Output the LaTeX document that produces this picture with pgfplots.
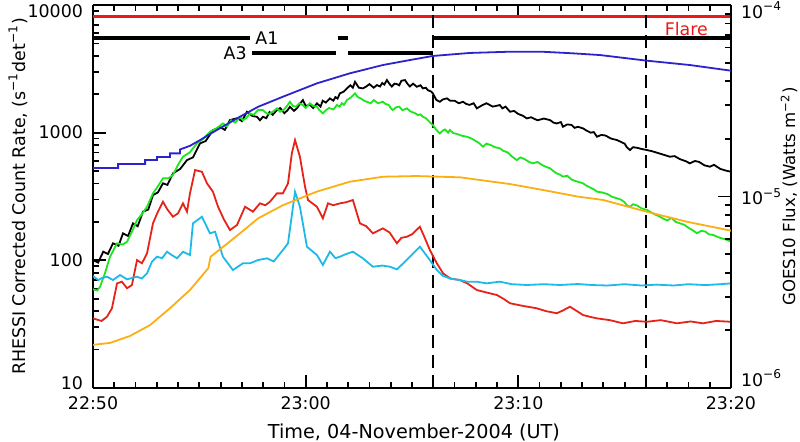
\documentclass[border=0pt]{standalone}
\usepackage{fontspec}
\setmainfont{DejaVu Sans}
\usepackage{pgfplots}
\pgfplotsset{compat=1.18}
\definecolor{goesl}{RGB}{45,35,205}
\definecolor{goess}{RGB}{250,175,20}
\definecolor{cgreen}{RGB}{30,230,30}
\definecolor{cred}{RGB}{230,35,25}
\definecolor{ccyan}{RGB}{30,185,230}
\definecolor{flare}{RGB}{235,25,25}
\pgfplotsset{
 common/.style={
  scale only axis, width=319pt, height=191.5pt,
  xmin=0, xmax=30,
  axis line style={line width=0.9pt},
  every tick/.style={line width=0.9pt, black},
  major tick length=6.5pt, minor tick length=3.2pt,
  tick align=inside,
  /pgf/number format/assume math mode=true,
 }
}
\begin{document}
\begin{tikzpicture}[font=\fontsize{8.7}{10}\selectfont]
\begin{axis}[common, ymode=log, ymin=10, ymax=10000,
 axis y line*=left,
 xtick={0,10,20,30}, xticklabels={22:50,23:00,23:10,23:20},
 minor xtick={1,2,3,4,5,6,7,8,9,11,12,13,14,15,16,17,18,19,21,22,23,24,25,26,27,28,29},
 ytick={10,100,1000,10000},
 yticklabels={\raisebox{-0.6pt}[0pt][0pt]{10},100,1000,\raisebox{-6.2pt}[0pt][0pt]{10000}},
 minor ytick={20,30,40,50,60,70,80,90,200,300,400,500,600,700,800,900,2000,3000,4000,5000,6000,7000,8000,9000},
 xlabel={Time, 04-November-2004 (UT)},
 ylabel={RHESSI Corrected Count Rate, (s\textsuperscript{−1}det\textsuperscript{−1})},
 xlabel style={at={(axis description cs:0.503,-0.115)}, anchor=center, font=\fontsize{9.6}{11}\selectfont},
 ylabel style={at={(axis description cs:-0.1176,0.5)}, anchor=center},
 yticklabel style={xshift=-1.5pt},
 xticklabel style={yshift=-1pt},
]
\coordinate (bbl) at (rel axis cs:-0.1458,-0.141);
\coordinate (btr) at (rel axis cs:1.1082,1.0131);
% flare bar
\addplot[flare, line width=1.6pt] coordinates {(0,8180) (30,8180)};
% A1 bars
\addplot[black, line width=1.7pt] coordinates {(0,5510) (7.38,5510)};
\addplot[black, line width=1.7pt] coordinates {(11.52,5510) (11.99,5510)};
\addplot[black, line width=1.7pt] coordinates {(16,5510) (30,5510)};
% A3 bars
\addplot[black, line width=1.7pt] coordinates {(7.48,4200) (11.42,4200)};
\addplot[black, line width=1.7pt] coordinates {(11.99,4200) (16,4200)};
\node[anchor=west, inner sep=0pt] at (axis cs:7.62,5510) {A1};
\node[anchor=east, inner sep=0pt] at (axis cs:7.24,4200) {A3};
\node[text=flare, inner sep=0pt] at (axis cs:27.9,6470) {Flare};
% dashed lines
\addplot[black, line width=1pt, dash pattern=on 6.5pt off 3.5pt] coordinates {(16,10) (16,10000)};
\addplot[black, line width=1pt, dash pattern=on 6.5pt off 3.5pt] coordinates {(26,10) (26,10000)};
% black
\addplot[black, line width=0.9pt] coordinates {(0,100.5)(0.24,96)(0.48,116.8)(0.7,112)(0.94,135.9)(1.2,130)(1.41,162.7)(1.65,155)(1.88,194.9)(2.1,185)(2.35,240.3)(2.6,250)(2.82,324.6)(3.05,340)(3.29,400.9)(3.5,390)(3.76,480)(4.1,520)(4.42,610)(4.7,640)(5.03,824.5)(5.3,860)(5.64,1048)(6.0,1100)(6.2,1050)(6.44,1255)(6.8,1300)(7.0,1230)(7.24,1458)(7.5,1350)(7.71,1332)(7.85,1250)(7.99,1332)(8.15,1300)(8.3,1450)(8.45,1380)(8.65,1503)(8.8,1560)(9.0,1420)(9.15,1500)(9.26,1595)(9.45,1480)(9.6,1560)(9.75,1700)(9.87,1800)(10.0,1620)(10.2,1650)(10.35,1560)(10.53,1696)(10.7,1600)(10.8,1780)(10.95,1720)(11.14,1856)(11.3,1780)(11.4,1900)(11.5,1850)(11.61,2032)(11.8,2100)(11.94,2223)(12.1,2350)(12.22,2250)(12.32,2503)(12.5,2250)(12.69,2223)(12.85,2300)(13.0,2400)(13.2,2250)(13.35,2359)(13.5,2300)(13.6,2450)(13.7,2380)(13.82,2582)(13.95,2400)(14.05,2300)(14.18,2420)(14.29,2402)(14.4,2350)(14.5,2550)(14.67,2582)(14.8,2400)(14.9,2300)(15.05,2420)(15.23,2288)(15.4,2350)(15.51,2223)(15.65,2250)(15.75,2150)(15.9,2100)(15.98,2032)(16.15,1800)(16.31,1746)(16.45,1820)(16.64,1856)(16.8,1780)(17.0,1780)(17.2,1700)(17.4,1746)(17.55,1680)(17.7,1650)(17.9,1700)(18.05,1550)(18.3,1640)(18.5,1700)(18.8,1600)(19.13,1645)(19.25,1550)(19.4,1600)(19.61,1458)(19.8,1480)(20.0,1400)(20.2,1360)(20.4,1294)(20.6,1320)(20.9,1250)(21.2,1290)(21.49,1255)(21.65,1200)(21.8,1180)(22.0,1210)(22.1,1112)(22.3,1160)(22.5,1150)(22.65,1090)(22.8,1112)(23.04,1081)(23.2,1040)(23.4,1000)(23.55,1010)(23.7,929)(23.9,960)(24.1,950)(24.35,900)(24.64,875)(24.8,850)(25.0,820)(25.1,770)(25.25,731)(25.4,770)(25.6,760)(25.8,745)(26.05,731)(26.3,715)(26.6,690)(26.85,670)(27.13,648)(27.35,655)(27.6,620)(27.85,600)(28.07,575)(28.3,600)(28.5,590)(28.75,555)(29.01,541)(29.2,560)(29.5,520)(29.75,505)(30,494)};
% green
\addplot[cgreen, line width=0.9pt] coordinates {(0,59.3)(0.2,58)(0.33,62.1)(0.56,79.1)(0.8,106.7)(1.13,135.9)(1.4,133)(1.6,139.9)(1.85,170)(2.07,206.8)(2.3,230)(2.54,262.9)(2.82,334.7)(3.05,380)(3.29,438.7)(3.55,440)(3.76,465.6)(4.0,560)(4.23,648)(4.55,700)(4.89,824.5)(5.2,900)(5.5,1016)(5.8,1080)(6.11,1182)(6.3,1120)(6.5,1250)(6.7,1200)(6.91,1332)(7.05,1250)(7.2,1300)(7.38,1416)(7.55,1380)(7.76,1503)(7.99,1503)(8.15,1420)(8.3,1400)(8.5,1480)(8.65,1550)(8.8,1460)(8.95,1500)(9.1,1600)(9.26,1746)(9.4,1620)(9.55,1600)(9.7,1700)(9.87,1645)(10.0,1560)(10.2,1700)(10.35,1620)(10.53,1595)(10.65,1500)(10.81,1416)(10.95,1500)(11.1,1560)(11.3,1520)(11.47,1645)(11.6,1600)(11.7,1700)(11.8,1650)(11.94,1800)(12.15,1900)(12.32,2032)(12.45,1900)(12.6,1850)(12.75,1780)(12.88,1746)(13.05,1700)(13.2,1800)(13.4,1700)(13.63,1746)(13.75,1680)(13.9,1650)(14.0,1560)(14.1,1503)(14.25,1580)(14.4,1600)(14.55,1500)(14.76,1550)(14.9,1480)(15.0,1450)(15.15,1420)(15.28,1373)(15.4,1390)(15.51,1332)(15.65,1300)(15.75,1250)(15.85,1200)(15.98,1147)(16.15,1050)(16.31,987)(16.45,1040)(16.55,1060)(16.7,1000)(16.78,1048)(16.95,990)(17.1,980)(17.3,950)(17.58,929)(17.8,900)(18.0,860)(18.15,830)(18.34,776)(18.5,820)(18.7,800)(18.9,770)(19.13,754)(19.3,720)(19.5,700)(19.7,650)(19.93,610)(20.1,640)(20.3,620)(20.5,590)(20.69,575)(20.9,590)(21.1,560)(21.3,540)(21.49,526)(21.65,500)(21.8,480)(21.95,470)(22.1,452)(22.3,460)(22.5,430)(22.65,420)(22.8,413)(23.04,401)(23.2,385)(23.4,370)(23.55,360)(23.7,345)(23.95,340)(24.2,330)(24.4,315)(24.64,306)(24.8,300)(25.0,285)(25.1,270)(25.25,263)(25.4,275)(25.6,268)(25.8,255)(26.05,248)(26.2,240)(26.4,230)(26.6,222)(26.8,213)(27.0,205)(27.2,215)(27.4,200)(27.6,195)(27.8,190)(28.0,180)(28.2,172)(28.4,163)(28.6,170)(28.8,168)(28.95,160)(29.15,158)(29.4,152)(29.6,148)(29.8,145)(30,140)};
% red
\addplot[cred, line width=0.9pt] coordinates {(0,35.1)(0.4,33.5)(0.66,36.2)(0.89,42.1)(1.13,66.0)(1.36,68.0)(1.6,60.4)(1.83,64.1)(2.07,100.5)(2.3,94.7)(2.54,113.4)(2.82,194.9)(3.05,240)(3.29,287.7)(3.5,250)(3.76,219.5)(4.0,233.4)(4.23,279.5)(4.42,240.3)(4.56,334.7)(4.8,509.4)(5.12,494)(5.36,400.9)(5.64,344.5)(5.88,262.9)(6.15,210)(6.44,172.7)(6.77,189.0)(7.15,262.9)(7.52,240.3)(7.85,279.5)(8.1,270)(8.32,287.7)(8.65,334.7)(8.93,334.7)(9.17,400.9)(9.35,688.5)(9.5,875)(9.73,648)(9.97,377)(10.11,296.7)(10.53,262.9)(10.81,213.3)(11.05,279.5)(11.3,270)(11.61,279.5)(11.9,285)(12.22,296.7)(12.55,194.9)(12.85,185)(13.16,162.7)(13.63,178.1)(13.95,165)(14.29,135.9)(14.5,150)(14.76,153.0)(15.0,160)(15.37,183.3)(15.6,150)(15.84,120.4)(16.17,94.7)(16.46,79.1)(16.8,72)(17.25,70.1)(17.6,66)(18.05,58.5)(18.5,56)(18.99,53.5)(19.3,50)(19.61,46.1)(20.2,44)(20.87,42.1)(21.3,40)(21.81,38.5)(22.1,40.5)(22.43,43.3)(22.8,39.6)(23.04,37.3)(23.4,36)(23.7,35.1)(24.3,34)(24.92,32.1)(25.5,33.5)(26.05,33.0)(26.7,34)(27.46,32.1)(28.1,33.2)(28.68,32.1)(29.3,33.5)(30,33.0)};
% cyan
\addplot[ccyan, line width=0.9pt] coordinates {(0,75.4)(0.24,70.1)(0.45,73)(0.66,74.4)(0.94,70.1)(1.27,76.7)(1.6,71.0)(2.07,74.4)(2.3,72)(2.54,79.1)(2.77,97.5)(3.01,106.7)(3.25,104)(3.48,116.8)(3.7,110)(3.95,103.7)(4.23,116.8)(4.56,110.0)(4.7,194.9)(5.12,219.5)(5.5,162.7)(5.74,167.5)(6.11,106.7)(6.58,83.9)(6.85,90)(7.05,94.7)(7.38,94.7)(7.76,100.5)(8.18,103.7)(8.5,98)(8.93,120.4)(9.17,135.9)(9.5,344.5)(9.73,262.9)(10.06,127.8)(10.53,110.0)(10.81,91.9)(11.14,116.8)(11.4,104)(11.61,106.7)(11.9,112)(12.22,116.8)(12.69,103.7)(13.16,89.1)(13.6,91)(13.96,89.1)(14.29,85.0)(14.6,95)(14.9,106.7)(15.37,127.8)(15.84,100.5)(16.17,83.9)(16.46,75.4)(16.8,72)(17.25,70.1)(17.6,68)(18.05,68.0)(18.5,66)(19.13,68.0)(19.7,65)(20.4,64.1)(21.2,65)(21.96,64.1)(22.8,65.2)(23.5,64)(24.2,63.5)(25.0,65)(25.8,63.5)(26.5,64.5)(27.3,63.5)(28.0,65)(28.8,64)(29.5,65)(30,66.0)};
\end{axis}
\begin{axis}[common, ymode=log, ymin=1e-6, ymax=1e-4,
 axis y line*=right, axis x line=none,
 ytick={1e-6,1e-5,1e-4},
 yticklabels={\raisebox{0.8pt}[0pt][0pt]{10\textsuperscript{−6}},10\textsuperscript{−5},\raisebox{-6.7pt}[0pt][0pt]{10\textsuperscript{−4}}},
 minor ytick={2e-6,3e-6,4e-6,5e-6,6e-6,7e-6,8e-6,9e-6,2e-5,3e-5,4e-5,5e-5,6e-5,7e-5,8e-5,9e-5},
 ylabel={GOES10 Flux, (Watts m\textsuperscript{−2})},
 ylabel style={at={(axis description cs:1.091,0.5)}, anchor=center, font=\fontsize{8.3}{9.5}\selectfont},
 yticklabel style={xshift=1.5pt},
]
\addplot[goesl, line width=0.9pt] coordinates {(0,1.41e-5)(1.18,1.41e-5)(1.18,1.48e-5)(2.45,1.48e-5)(2.45,1.55e-5)(3.01,1.55e-5)(3.01,1.61e-5)(3.62,1.61e-5)(3.62,1.68e-5)(4.09,1.68e-5)(4.09,1.76e-5)(4.56,1.84e-5)(5.03,1.97e-5)(5.5,2.12e-5)(6.11,2.32e-5)(6.91,2.61e-5)(7.76,2.94e-5)(8.93,3.32e-5)(10.53,3.90e-5)(12.08,4.40e-5)(13.63,4.86e-5)(14.9,5.16e-5)(15.98,5.42e-5)(17.72,5.62e-5)(19.5,5.70e-5)(21.16,5.70e-5)(22.5,5.60e-5)(23.84,5.48e-5)(26.05,5.12e-5)(28.07,4.86e-5)(30,4.54e-5)};
\addplot[goess, line width=0.9pt] coordinates {(0,1.68e-6)(0.8,1.72e-6)(1.74,1.87e-6)(2.68,2.13e-6)(3.62,2.61e-6)(4.56,3.25e-6)(5.42,4.22e-6)(5.53,4.85e-6)(6.13,5.47e-6)(6.91,6.42e-6)(7.77,7.70e-6)(8.95,9.03e-6)(10.52,1.06e-5)(12.08,1.195e-5)(13.65,1.269e-5)(15.22,1.279e-5)(17.25,1.26e-5)(19.6,1.162e-5)(21.17,1.081e-5)(22.82,9.98e-6)(23.99,9.59e-6)(26.03,8.33e-6)(27.91,7.39e-6)(30,6.63e-6)};
\end{axis}
\pgfresetboundingbox
\useasboundingbox (bbl) rectangle (btr);
\end{tikzpicture}
\end{document}
